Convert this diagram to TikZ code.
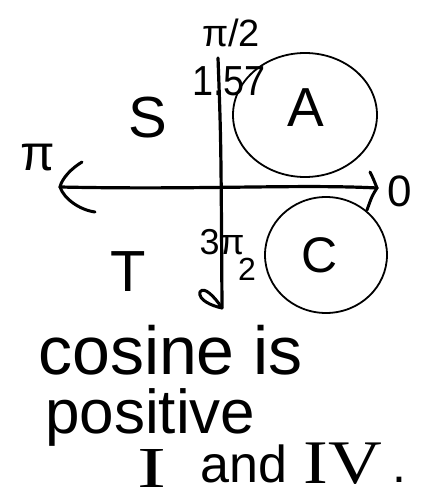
\documentclass[tikz,border=0pt]{standalone}
\usepackage{fontspec}
\setmainfont{Liberation Sans}
\newfontfamily\serifnum{Liberation Serif}
\newcommand\fsz[1]{\fontsize{#1}{#1}\selectfont}
\begin{document}
\begin{tikzpicture}[x=1pt,y=-1pt,
  axis/.style={line width=3.2pt, line cap=round, line join=round},
  tipline/.style={line width=3pt, line cap=round},
  ring/.style={line width=1.8pt},
  lbl/.style={inner sep=0pt},
  tight/.style={text height=0.68em, text depth=0pt}]
\useasboundingbox (0,0) rectangle (433,500);
% axes
\coordinate (top) at (218,58);
\coordinate (bottom) at (222,308);
\coordinate (left) at (60,187);
\coordinate (right) at (377,188);
\draw[axis] (top) .. controls (221,140) .. (bottom);
\draw[axis] (left) .. controls (200,190) and (300,184) .. (right);
% hand-drawn arrow heads
\draw[tipline] (82,162) .. controls (72,168) and (62,178) .. (left) .. controls (64,199) and (80,210) .. (95,212);
\draw[tipline] (370,172) .. controls (373,178) .. (right) .. controls (372,196) .. (367,210);
\draw[tipline] (bottom) .. controls (214,296) and (204,286) .. (200,292) .. controls (198,300) and (212,306) .. (bottom);
% circled regions
\draw[ring] (305,115) ellipse [x radius=72, y radius=62];
\draw[ring] (326,255) ellipse [x radius=61, y radius=58];
% axis labels
\node[lbl, font=\fsz{38}] (pihalf) at (231,33) {π/2};
\node[lbl, font=\fsz{42}, xscale=0.9] (val) at (229,81) {1.57};
\node[lbl, font=\fsz{50}] (pilbl) at (38,158) {π};
\node[lbl, font=\fsz{44}] (zero) at (400,191) {0};
\node[lbl, font=\fsz{36}, tight, anchor=base] (threepi) at (222,254) {3π};
\node[lbl, font=\fsz{32}, tight, anchor=base] (two) at (247,280) {2};
% quadrant letters
\node[lbl, font=\fsz{58}] (S) at (148,118) {S};
\node[lbl, font=\fsz{55}] (A) at (306,108) {A};
\node[lbl, font=\fsz{58}] (T) at (128,272) {T};
\node[lbl, font=\fsz{50}] (C) at (320,255) {C};
% note
\node[lbl, font=\fsz{68}, anchor=base west] (l1) at (38,374) {cosine is};
\node[lbl, font=\fsz{62}, anchor=base west, text depth=0pt] (l2) at (45,433) {positive};
\node[lbl, font=\serifnum\fsz{58}, xscale=1.5, tight, anchor=base] (one) at (152,487) {I};
\node[lbl, font=\fsz{52}, anchor=base west] (and) at (200,482) {and};
\node[lbl, font=\serifnum\fsz{62}, xscale=1.2, tight, anchor=base] (four) at (343,483) {IV};
\node[lbl, font=\fsz{50}, anchor=base west] (dot) at (392,482) {.};
\end{tikzpicture}
\end{document}
